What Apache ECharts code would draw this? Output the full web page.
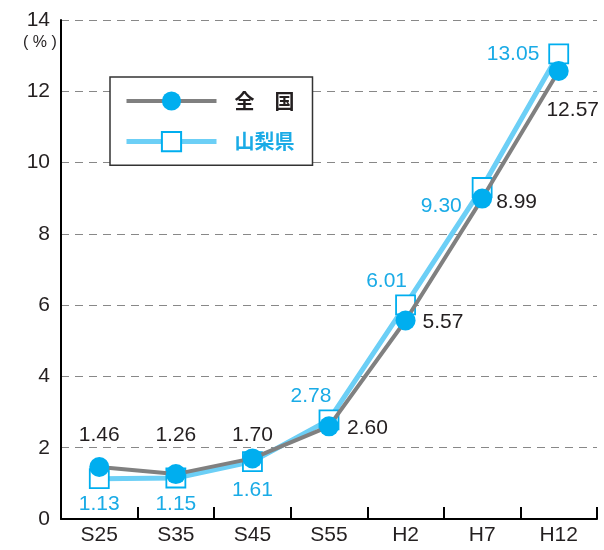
<!DOCTYPE html>
<html>
<head>
<meta charset="utf-8">
<script src="https://cdn.jsdelivr.net/npm/echarts@6/dist/echarts.min.js"></script>
<style>
  html, body { margin: 0; padding: 0; background: #fff; }
  #chart { width: 604px; height: 550px; }
</style>
</head>
<body>
<div id="chart"></div>
<script>
// 年次（昭和・平成）
const categories = ['S25', 'S35', 'S45', 'S55', 'H2', 'H7', 'H12'];
// 比率（%）
const zenkoku = [1.46, 1.26, 1.70, 2.60, 5.57, 8.99, 12.57];
const yamanashi = [1.13, 1.15, 1.61, 2.78, 6.01, 9.30, 13.05];
const yTicks = [0, 2, 4, 6, 8, 10, 12, 14];

const FONT = '"Liberation Sans", Arial, sans-serif';
const CJK = '"Noto Sans CJK JP", sans-serif';
const GRAY = '#808080';
const CYAN = '#00AEEF';
const LIGHT = '#6CCFF6';
const BLUE_TXT = '#1AABE6';

// label placement per point (position, distance, offset)
const zenkokuLabel = [
  { position: 'top', distance: 11, offset: [0, 0] },
  { position: 'top', distance: 11, offset: [0, -7] },
  { position: 'top', distance: 11, offset: [0, 8] },
  { position: 'right', distance: 8, offset: [0, 2] },
  { position: 'right', distance: 7, offset: [0, 2] },
  { position: 'right', distance: 4, offset: [0, 4] },
  { position: 'bottom', distance: 19, offset: [14, 0] }
];
const yamaLabel = [
  { position: 'bottom', distance: 5, offset: [0, 0] },
  { position: 'bottom', distance: 5, offset: [0, 0] },
  { position: 'bottom', distance: 8, offset: [0, 0] },
  { position: 'top', distance: 3, offset: [-18, 0] },
  { position: 'top', distance: 3, offset: [-19, 0] },
  { position: 'left', distance: 10, offset: [0, 19] },
  { position: 'left', distance: 9, offset: [0, 0] }
];

function build(values, placements, color) {
  return values.map((v, i) => ({
    value: v,
    label: Object.assign({ show: true, color: color, fontSize: 21, fontFamily: FONT,
      formatter: (p) => p.value.toFixed(2) }, placements[i])
  }));
}

const chart = echarts.init(document.getElementById('chart'), null, { renderer: 'canvas' });
chart.setOption({
  animation: false,
  backgroundColor: '#fff',
  grid: { left: 61, right: 7, top: 20, bottom: 31, containLabel: false },
  legend: {
    left: 110, top: 77,
    orient: 'vertical',
    data: [
      { name: '全　国', textStyle: { color: '#231F20' },
        lineStyle: { color: GRAY, width: 4 } },
      { name: '山梨県', textStyle: { color: BLUE_TXT },
        lineStyle: { color: LIGHT, width: 5 } }
    ],
    itemWidth: 90, itemHeight: 24, itemGap: 20,
    padding: [14, 18, 13, 14],
    backgroundColor: '#fff',
    borderColor: '#333', borderWidth: 1.5,
    textStyle: { fontSize: 20, fontWeight: 'bold', fontFamily: CJK, padding: [0, 0, 0, 13] }
  },
  xAxis: {
    type: 'category',
    data: categories,
    boundaryGap: true,
    axisLine: { lineStyle: { color: '#000', width: 2 } },
    axisTick: { show: true, inside: true, length: 12, lineStyle: { color: '#000', width: 2 } },
    axisLabel: { color: '#231F20', fontSize: 21, fontFamily: FONT, margin: 6 },
    splitLine: { show: false }
  },
  yAxis: {
    type: 'value',
    min: yTicks[0], max: yTicks[yTicks.length - 1], interval: 2,
    axisLine: { show: true, lineStyle: { color: '#000', width: 2 } },
    axisTick: { show: false },
    axisLabel: { color: '#231F20', fontSize: 21, fontFamily: FONT, margin: 11 },
    splitLine: { show: true, lineStyle: { color: '#888', width: 1, type: [8, 6] } }
  },
  graphic: [{
    type: 'text', left: 23, top: 35,
    style: { text: '( % )', fontSize: 16, fontFamily: FONT, fill: '#231F20' }
  }],
  series: [
    {
      name: '山梨県', type: 'line', z: 2,
      data: build(yamanashi, yamaLabel, BLUE_TXT),
      symbol: 'rect', symbolSize: 19,
      lineStyle: { color: LIGHT, width: 5 },
      itemStyle: { color: '#fff', borderColor: CYAN, borderWidth: 1.8 }
    },
    {
      name: '全　国', type: 'line', z: 3,
      data: build(zenkoku, zenkokuLabel, '#231F20'),
      symbol: 'circle', symbolSize: 20,
      lineStyle: { color: GRAY, width: 4 },
      itemStyle: { color: CYAN, borderWidth: 0 }
    }
  ]
});
</script>
</body>
</html>
